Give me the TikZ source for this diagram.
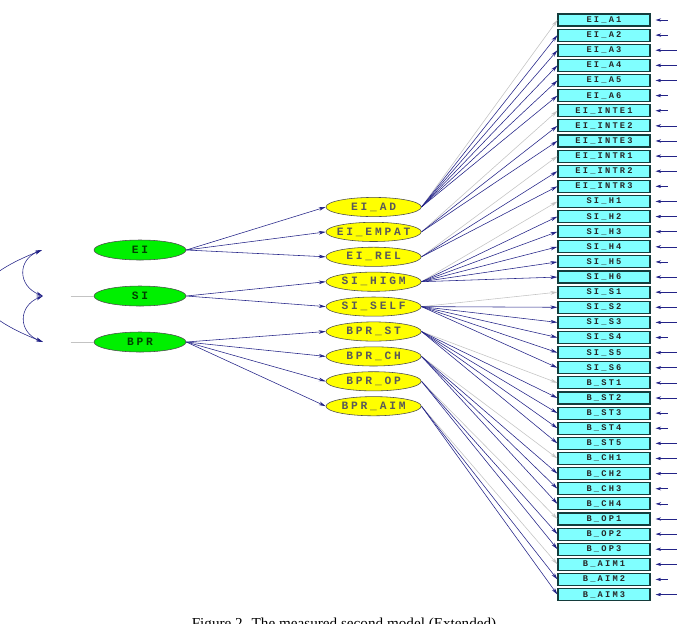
\documentclass[tikz,border=0pt]{standalone}
\usepackage{fontspec}
\setmainfont{Liberation Serif}
\newfontfamily\amosfont[LetterSpace=25]{Liberation Mono}
\usetikzlibrary{positioning,arrows.meta,shapes.geometric}
\definecolor{amosblue}{RGB}{35,35,135}
\definecolor{amosgray}{RGB}{195,195,195}
\definecolor{boxcyan}{RGB}{128,255,255}
\definecolor{boxedge}{RGB}{20,60,60}
\definecolor{latyellow}{RGB}{255,255,0}
\definecolor{facgreen}{RGB}{0,240,0}
\tikzset{node distance =0.378cm ,on grid ,semithick ,
indic/.style ={rectangle, draw=boxedge, line width=0.8pt, fill=boxcyan,
  minimum width=2.3cm, minimum height=0.3cm, inner sep=0pt,
  font=\amosfont\bfseries\fontsize{6.2}{7}\selectfont, text=black!85},
latent/.style ={ellipse, draw=black!70, thin, fill=latyellow,
  minimum width=2.38cm, minimum height=0.48cm, inner sep=0pt, inner xsep=-6pt,
  font=\amosfont\bfseries\fontsize{8}{9}\selectfont, text=black!65},
factor/.style ={ellipse, draw=black!70, thin, fill=facgreen,
  minimum width=2.3cm, minimum height=0.5cm, inner sep=0pt,
  font=\amosfont\bfseries\fontsize{8}{9}\selectfont, text=green!25!black},
load/.style ={every edge/.style ={draw=amosblue, thin, -{Stealth[length=5pt,width=2.6pt]}}},
fixload/.style ={draw=amosgray},
err/.style ={draw=amosblue, thin, -{Stealth[length=4pt,width=2.4pt]}},
cov/.style ={draw=amosblue, thin, {Stealth[length=5pt,width=2.6pt]}-{Stealth[length=5pt,width=2.6pt]}}}

\begin{document}
\begin{tikzpicture}
\useasboundingbox (0,0) rectangle (17.15,-15.575);
% observed items
\node[indic] (a1) at (15.1,-0.5) {EI\_A1};
\node[indic] (a2) [below=of a1] {EI\_A2};
\node[indic] (a3) [below=of a2] {EI\_A3};
\node[indic] (a4) [below=of a3] {EI\_A4};
\node[indic] (a5) [below=of a4] {EI\_A5};
\node[indic] (a6) [below=of a5] {EI\_A6};
\node[indic] (inte1) [below=of a6] {EI\_INTE1};
\node[indic] (inte2) [below=of inte1] {EI\_INTE2};
\node[indic] (inte3) [below=of inte2] {EI\_INTE3};
\node[indic] (intr1) [below=of inte3] {EI\_INTR1};
\node[indic] (intr2) [below=of intr1] {EI\_INTR2};
\node[indic] (intr3) [below=of intr2] {EI\_INTR3};
\node[indic] (h1) [below=of intr3] {SI\_H1};
\node[indic] (h2) [below=of h1] {SI\_H2};
\node[indic] (h3) [below=of h2] {SI\_H3};
\node[indic] (h4) [below=of h3] {SI\_H4};
\node[indic] (h5) [below=of h4] {SI\_H5};
\node[indic] (h6) [below=of h5] {SI\_H6};
\node[indic] (s1) [below=of h6] {SI\_S1};
\node[indic] (s2) [below=of s1] {SI\_S2};
\node[indic] (s3) [below=of s2] {SI\_S3};
\node[indic] (s4) [below=of s3] {SI\_S4};
\node[indic] (s5) [below=of s4] {SI\_S5};
\node[indic] (s6) [below=of s5] {SI\_S6};
\node[indic] (st1) [below=of s6] {B\_ST1};
\node[indic] (st2) [below=of st1] {B\_ST2};
\node[indic] (st3) [below=of st2] {B\_ST3};
\node[indic] (st4) [below=of st3] {B\_ST4};
\node[indic] (st5) [below=of st4] {B\_ST5};
\node[indic] (ch1) [below=of st5] {B\_CH1};
\node[indic] (ch2) [below=of ch1] {B\_CH2};
\node[indic] (ch3) [below=of ch2] {B\_CH3};
\node[indic] (ch4) [below=of ch3] {B\_CH4};
\node[indic] (op1) [below=of ch4] {B\_OP1};
\node[indic] (op2) [below=of op1] {B\_OP2};
\node[indic] (op3) [below=of op2] {B\_OP3};
\node[indic] (aim1) [below=of op3] {B\_AIM1};
\node[indic] (aim2) [below=of aim1] {B\_AIM2};
\node[indic] (aim3) [below=of aim2] {B\_AIM3};
% first-order factors
\node[latent] (ad) at (9.34,-5.175) {EI\_AD};
\node[latent] (empat) [below=0.6225cm of ad] {EI\_EMPAT};
\node[latent] (rel) [below=0.6225cm of empat] {EI\_REL};
\node[latent] (higm) [below=0.6225cm of rel] {SI\_HIGM};
\node[latent] (self) [below=0.6225cm of higm] {SI\_SELF};
\node[latent] (bst) [below=0.6225cm of self] {BPR\_ST};
\node[latent] (bch) [below=0.6225cm of bst] {BPR\_CH};
\node[latent] (bop) [below=0.6225cm of bch] {BPR\_OP};
\node[latent] (baim) [below=0.6225cm of bop] {BPR\_AIM};
% second-order factors
\node[factor] (ei) at (3.5,-6.25) {EI};
\node[factor] (si) [below=1.15cm of ei] {SI};
\node[factor] (bpr) [below=1.15cm of si] {BPR};
\coordinate[left=2.45cm of ei] (cei);
\coordinate[left=2.425cm of si] (csi);
\coordinate[left=2.425cm of bpr] (cbpr);
\coordinate[left=0.575cm of si.west] (gsi);
\coordinate[left=0.575cm of bpr.west] (gbpr);

\path[load]
    (ei.east) edge (ad.west)
              edge (empat.west)
              edge (rel.west)
    (si.east) edge (higm.west)
              edge (self.west)
    (bpr.east) edge (bst.west)
               edge (bch.west)
               edge (bop.west)
               edge (baim.west)
    (ad.east) edge[fixload] (a1.west)
              edge (a2.west) edge (a3.west) edge (a4.west)
              edge (a5.west) edge (a6.west)
    (empat.east) edge[fixload] (inte1.west)
                 edge (inte2.west) edge (inte3.west)
    (rel.east) edge[fixload] (intr1.west)
               edge (intr2.west) edge (intr3.west)
    (higm.east) edge[fixload] (h1.west)
                edge (h2.west) edge (h3.west) edge (h4.west)
                edge (h5.west) edge (h6.west)
    (self.east) edge[fixload] (s1.west)
                edge (s2.west) edge (s3.west) edge (s4.west)
                edge (s5.west) edge (s6.west)
    (bst.east) edge[fixload] (st1.west)
               edge (st2.west) edge (st3.west) edge (st4.west)
               edge (st5.west)
    (bch.east) edge[fixload] (ch1.west)
               edge (ch2.west) edge (ch3.west) edge (ch4.west)
    (bop.east) edge[fixload] (op1.west)
               edge (op2.west) edge (op3.west)
    (baim.east) edge[fixload] (aim1.west)
                edge (aim2.west) edge (aim3.west);

% error terms
\foreach \b/\l in {a1/0.425, a2/0.425, a3/0.65, a4/0.65, a5/0.65, a6/0.425,
    inte1/0.425, inte2/0.65, inte3/0.65, intr1/0.65, intr2/0.65, intr3/0.425,
    h1/0.65, h2/0.65, h3/0.65, h4/0.65, h5/0.425, h6/0.65,
    s1/0.65, s2/0.65, s3/0.65, s4/0.425, s5/0.65, s6/0.65,
    st1/0.65, st2/0.65, st3/0.425, st4/0.425, st5/0.65,
    ch1/0.65, ch2/0.65, ch3/0.425, ch4/0.425,
    op1/0.65, op2/0.65, op3/0.65, aim1/0.65, aim2/0.425, aim3/0.65}
  \draw[err] ([xshift=\l cm]\b.east) -- ([xshift=0.125cm]\b.east);

% covariances
\draw[cov] (cei) .. controls +(-0.625,-0.25) and +(-0.625,0.25) .. (csi);
\draw[cov] (csi) .. controls +(-0.625,-0.25) and +(-0.625,0.25) .. (cbpr);
\draw[cov] (cei) .. controls +(-2,-0.8) and +(-2,0.8) .. (cbpr);
\draw[amosgray, thin] (gsi) -- (si);
\draw[amosgray, thin] (gbpr) -- (bpr);

\node (cap) [anchor=north, font=\fontsize{10.8}{13}\selectfont] at (8.6,-15.33)
  {Figure 2. The measured second model (Extended)};
\end{tikzpicture}
\end{document}
